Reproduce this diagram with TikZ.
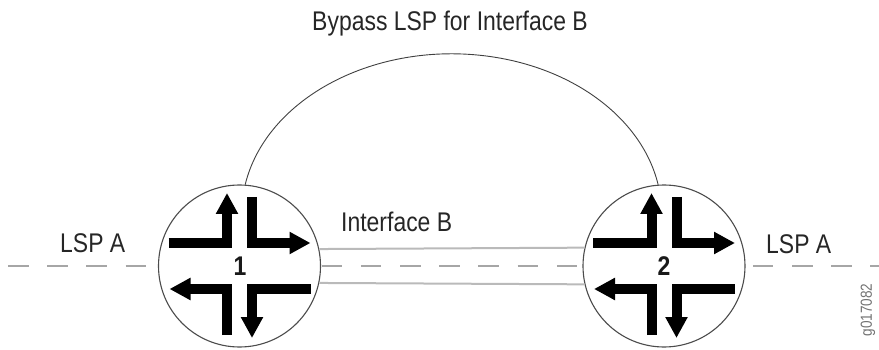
\documentclass[tikz,border=0pt]{standalone}
\usepackage{fontspec}
\setmainfont{Liberation Sans}[FakeStretch=0.85]
\usetikzlibrary{arrows.meta}
\tikzset{
  router/.style={circle, draw=black!70, line width=1.1pt, fill=white, minimum size=162pt, inner sep=0pt},
  fwd/.style={line width=10pt, black, line join=miter, -{Triangle[length=21pt,width=21pt]}},
  lbl/.style={font=\fontsize{27}{30}\selectfont, text=black!85, inner sep=0pt},
  num/.style={font=\fontsize{27}{30}\selectfont\bfseries, text=black!90, inner sep=0pt},
  lspline/.style={draw=black!35, line width=2pt, dash pattern=on 20.5pt off 18.7pt},
  ifline/.style={draw=black!27, line width=2pt},
  bypass/.style={draw=black!75, line width=0.9pt},
  routerarrows/.pic={
    \draw[fwd] (-71,-23) -- (-12.5,-23) -- (-12.5,-73);
    \draw[fwd] (12.5,-69) -- (12.5,-23) -- (71,-23);
    \draw[fwd] (-12.5,69) -- (-12.5,23) -- (-70,23);
    \draw[fwd] (71,23) -- (12.5,23) -- (12.5,72);
  }
}
\begin{document}
\begin{tikzpicture}[x=1pt,y=-1pt]
\useasboundingbox (0,0) rectangle (879,350);
% LSP A dashed path
\coordinate (lspL) at (8,266);
\coordinate (lspR) at (879,266);
\draw[lspline] (lspL) -- (lspR);
% routers
\node[router] (r1) at (239.5,266) {};
\node[router] (r2) at (664,266) {};
% interface B lines
\draw[ifline] (r1.12.1) -- (r2.167.9);
\draw[ifline] (r1.-12.8) -- (r2.-167.2);
% bypass LSP
\draw[bypass] (r1.86) arc[start angle=190.5, end angle=349.5, x radius=210, y radius=160];
% arrows
\pic at (r1.center) {routerarrows};
\pic at (r2.center) {routerarrows};
% labels
\node[num, anchor=base] (n1) at (240,275) {1};
\node[num, anchor=base] (n2) at (664,275) {2};
\node[lbl, anchor=base] (tbyp) at (450,31) {Bypass LSP for Interface B};
\node[lbl, anchor=base west] (tif) at (341,232) {Interface B};
\node[lbl, anchor=base west] (tla) at (60,252) {LSP A};
\node[lbl, anchor=base west] (tlb) at (766,253) {LSP A};
\node[inner sep=0pt, text=black!55, rotate=90, font=\fontsize{16}{18}\selectfont] (gid) at (868,310) {g017082};
\end{tikzpicture}
\end{document}
